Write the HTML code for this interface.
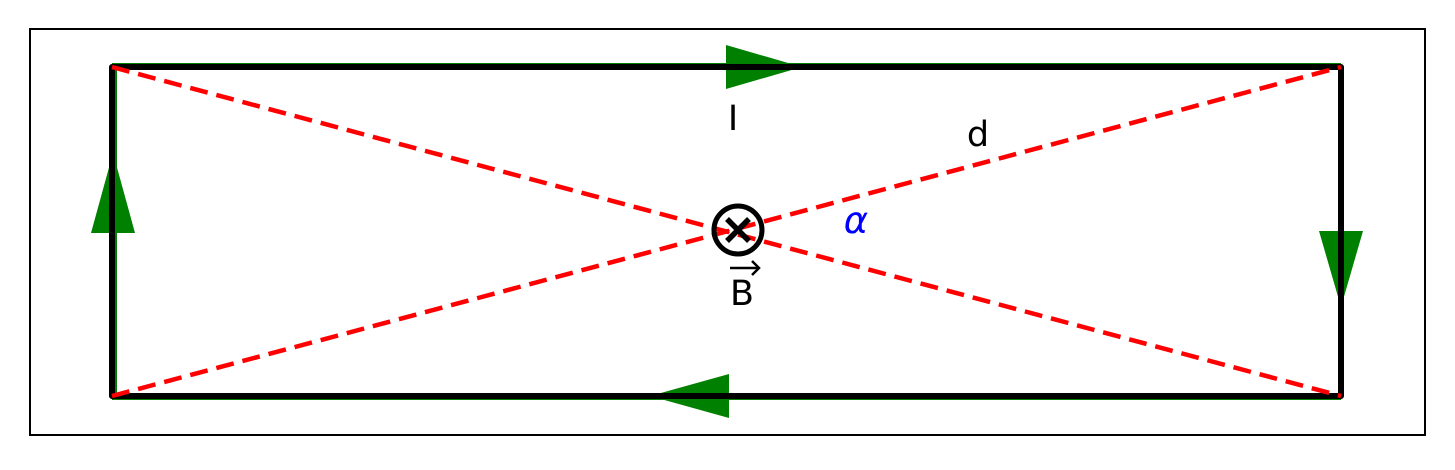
<!DOCTYPE html>
<html><head><style>body{margin:0;background:#fff}</style></head><body>
<svg width="1455" height="465" xmlns="http://www.w3.org/2000/svg" font-family="'DejaVu Sans','Liberation Sans',sans-serif">
<rect x="30" y="29" width="1395" height="406" fill="none" stroke="#000" stroke-width="2"/>
<g stroke="green" stroke-width="6" fill="none">
<line x1="112" y1="66" x2="1341" y2="66"/>
<line x1="1341" y1="67" x2="1341" y2="396"/>
<line x1="1341" y1="397" x2="112" y2="397"/>
<line x1="114" y1="396" x2="114" y2="67"/>
</g>
<g fill="green">
<polygon points="726,45 802,67 726,89"/>
<polygon points="1319,231 1363,231 1341,307"/>
<polygon points="729,374 650,396 729,418"/>
<polygon points="91,233 135,233 113,153"/>
</g>
<rect x="112" y="67" width="1229" height="329" fill="none" stroke="#000" stroke-width="6" stroke-linejoin="round"/>
<g stroke="red" stroke-width="4.5" stroke-dasharray="18,9">
<line x1="112" y1="67" x2="1341" y2="396"/>
<line x1="112" y1="396" x2="1341" y2="67"/>
</g>
<circle cx="738" cy="230" r="24" fill="none" stroke="#000" stroke-width="5"/>
<g stroke="#000" stroke-width="5.5"><line x1="727" y1="219" x2="749" y2="241"/><line x1="749" y1="219" x2="727" y2="241"/></g>
<text x="733" y="130" font-size="35" text-anchor="middle">I</text>
<text x="978" y="146" font-size="35" text-anchor="middle">d</text>
<text x="856" y="233" font-size="37" fill="blue" font-style="italic" text-anchor="middle">α</text>
<text x="742" y="305" font-size="35" text-anchor="middle">B</text>
<g stroke="#000" stroke-width="2.5" fill="none"><line x1="730" y1="268" x2="759" y2="268"/><polyline points="752,261 759,268 752,275"/></g>
</svg>
</body></html>
